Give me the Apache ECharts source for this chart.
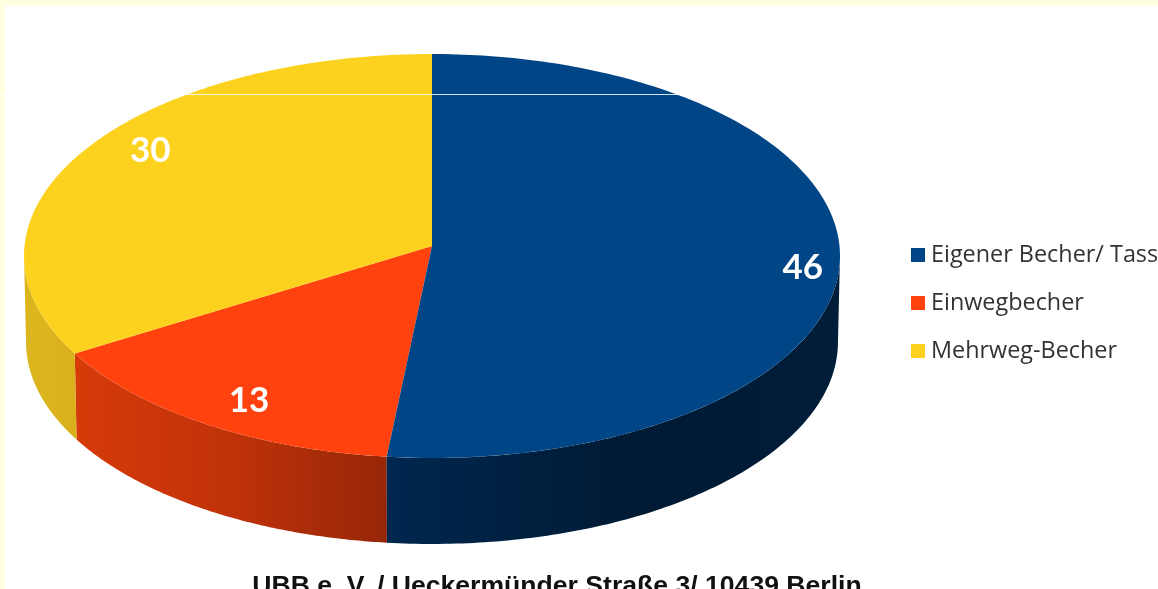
<!DOCTYPE html>
<html><head><meta charset="utf-8">
<style>html,body{margin:0;padding:0;background:#fff;overflow:hidden}#c{width:1158px;height:589px}</style>
<script src="https://cdn.jsdelivr.net/npm/echarts@6/dist/echarts.min.js"></script>
</head><body><div id="c"></div>
<script>
const categories = ['Eigener Becher/ Tasse', 'Einwegbecher', 'Mehrweg-Becher'];
const values = [46, 13, 30];
const caption = 'UBB e. V. / Ueckermünder Straße 3/ 10439 Berlin';

const colors = ['#004586', '#ff420e', '#fcd21e'];
const wallStops = [
  [[0, '#00274f'], [0.55, '#001a34'], [1, '#001d3a']],
  [[0, '#d63b09'], [0.5, '#c03209'], [1, '#962608']],
  [[0, '#dcb61f'], [1, '#d9b01c']]
];
const labelNudge = [[16, 12], [14, 1], [21, -11]];

// Projection of the tilted disc: perspective maps the unit circle to the drawn ellipse
const CX = 432, RX = 407.5, APEX = 246, A = 189.3, C = -0.0495;
const DEPTH = 86, BOTTOM_SCALE = 0.995;
function project(U, V) {
  const w = 1 + C * V;
  return [CX + RX * U / w, (A * V + APEX) / w];
}
function rimTop(t, r) { return project(r * Math.sin(t), -r * Math.cos(t)); }
function rimBottom(t) {
  const p = rimTop(t, 1);
  return [CX + (p[0] - CX) * BOTTOM_SCALE, p[1] + DEPTH];
}
const total = values.reduce((a, b) => a + b, 0);
const VIS_A = 92.8 * Math.PI / 180, VIS_B = 267.2 * Math.PI / 180;

function makeRender(idx) {
  return function (params, api) {
    const val = api.value(0), cum = api.value(1);
    const t0 = cum / total * 2 * Math.PI, t1 = (cum + val) / total * 2 * Math.PI;
    const children = [];
    const wa = Math.max(t0, VIS_A), wb = Math.min(t1, VIS_B);
    if (wb > wa) {
      const n = 120, up = [], lo = [];
      for (let i = 0; i <= n; i++) {
        const t = wa + (wb - wa) * i / n;
        up.push(rimTop(t, 1));
        lo.push(rimBottom(t));
      }
      const xs = up.concat(lo).map(p => p[0]);
      const xa = Math.min.apply(null, xs), xb = Math.max.apply(null, xs);
      children.push({
        type: 'polygon', z2: 1,
        shape: { points: up.concat(lo.reverse()) },
        style: {
          fill: new echarts.graphic.LinearGradient(xa, 0, xb, 0,
            wallStops[idx].map(s => ({ offset: s[0], color: s[1] })), true)
        }
      });
    }
    const pts = [project(0, 0)], n = 200;
    for (let i = 0; i <= n; i++) pts.push(rimTop(t0 + (t1 - t0) * i / n, 1));
    children.push({ type: 'polygon', z2: 2, shape: { points: pts }, style: { fill: colors[idx] } });
    const mid = (t0 + t1) / 2, lp = rimTop(mid, 0.87);
    children.push({
      type: 'text', z2: 3,
      x: lp[0] + labelNudge[idx][0], y: lp[1] + labelNudge[idx][1],
      style: {
        text: String(val), fill: '#fff', align: 'center', verticalAlign: 'middle',
        font: 'bold 35px Lato, "Open Sans", sans-serif'
      }
    });
    return { type: 'group', children };
  };
}

let running = 0;
const series = categories.map((name, i) => {
  const s = {
    name, type: 'custom', coordinateSystem: 'none', silent: true, animation: false,
    clip: false, z: i === 0 ? 3 : 2,
    itemStyle: { color: colors[i] },
    data: [[values[i], running]],
    renderItem: makeRender(i)
  };
  running += values[i];
  return s;
});

const chart = echarts.init(document.getElementById('c'), null, { renderer: 'canvas' });
chart.setOption({
  animation: false,
  backgroundColor: '#ffffe0',
  title: {
    text: caption, left: 557, top: 573, textAlign: 'center', padding: 0,
    textStyle: { fontFamily: '"Liberation Sans", Arial, sans-serif', fontWeight: 'bold', fontSize: 26.6, color: '#111' }
  },
  legend: {
    orient: 'vertical', left: 911, top: 241.5, padding: 0, itemWidth: 14, itemHeight: 14, itemGap: 21,
    icon: 'rect', selectedMode: false,
    data: categories,
    textStyle: { fontFamily: '"Open Sans", Lato, sans-serif', fontSize: 23.4, color: '#333', lineHeight: 24, padding: [3,0,0,1] }
  },
  graphic: [
    { type: 'rect', z: -10, silent: true, shape: { x: 5, y: 6, width: 1153, height: 583 }, style: { fill: '#fff' } },
    { type: 'rect', z: 100, silent: true, shape: { x: 0, y: 94, width: 1158, height: 1 }, style: { fill: '#fff', opacity: 0.85 } }
  ],
  series
});
</script></body></html>
